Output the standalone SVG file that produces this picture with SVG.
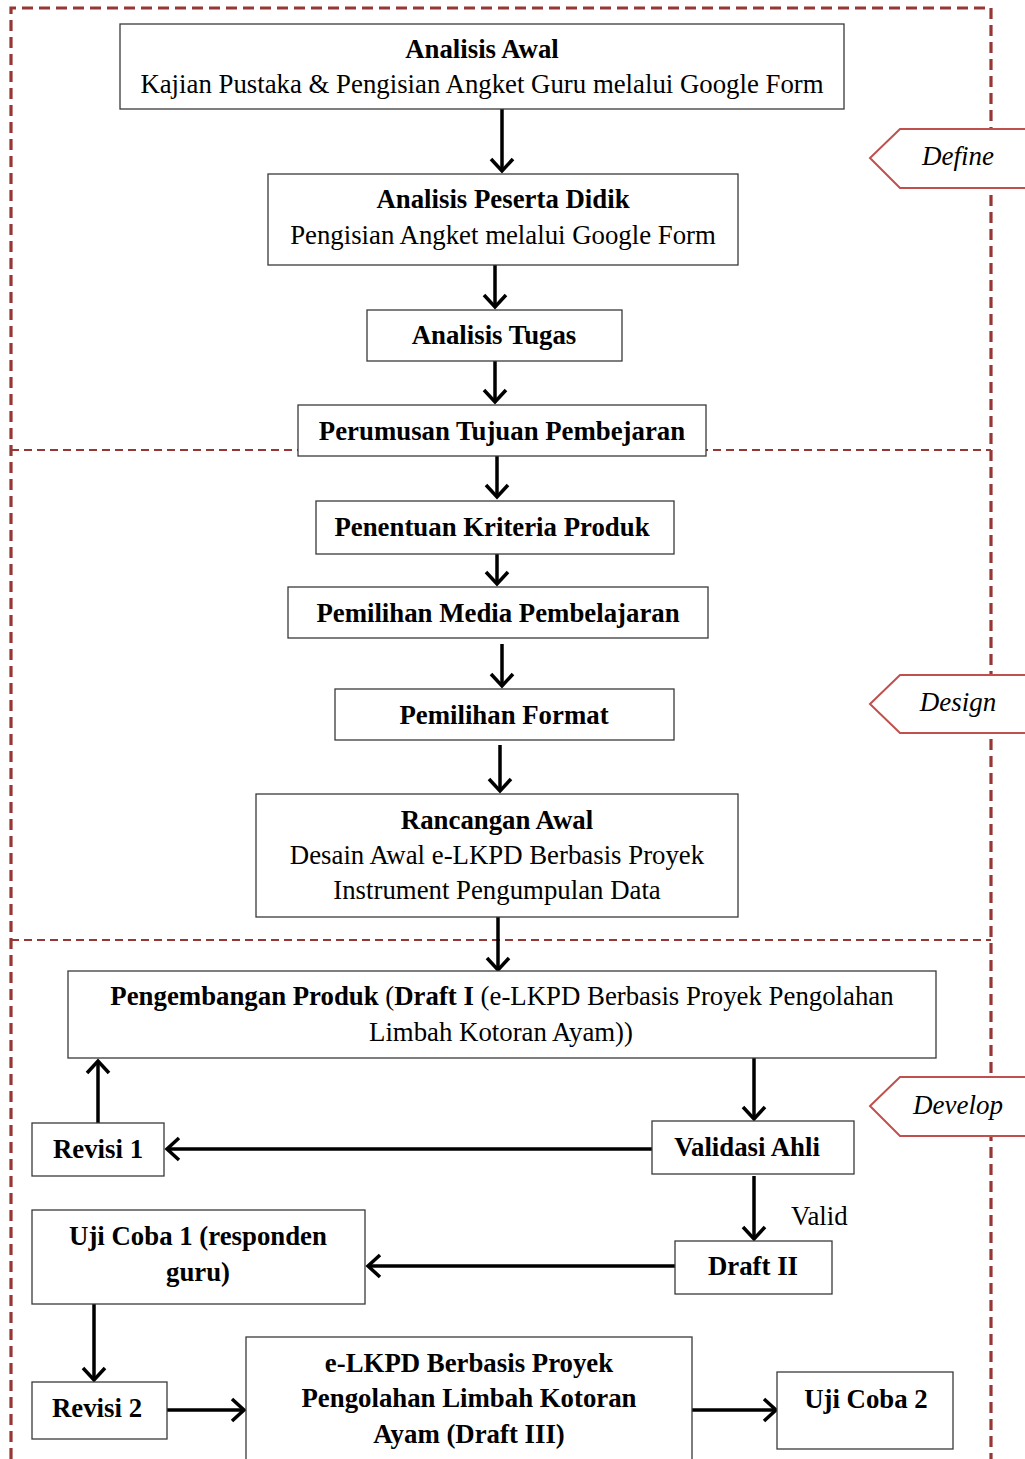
<svg xmlns="http://www.w3.org/2000/svg" width="1025" height="1459" viewBox="0 0 1025 1459">
<style>
.box{fill:#fff;stroke:#3a3a3a;stroke-width:1.3}
.t{font-family:"Liberation Serif","Times New Roman",serif;font-size:26.8px;fill:#000;text-anchor:middle}
.b{font-weight:bold}
.c{fill:none;stroke:#000;stroke-width:3.5}
.tag{fill:#fff;stroke:#c0504d;stroke-width:2}
.ti{font-family:"Liberation Serif","Times New Roman",serif;font-size:27px;font-style:italic;fill:#000;text-anchor:middle}
.border{fill:none;stroke:#953734;stroke-width:3.2;stroke-dasharray:11 6}
.div{fill:none;stroke:#953734;stroke-width:2.2;stroke-dasharray:8 5}
</style>
<defs>
<marker id="ah" markerUnits="userSpaceOnUse" viewBox="0 0 28 28" markerWidth="28" markerHeight="28" refX="14" refY="14" orient="auto">
<path d="M2,3 L14,14 L2,25" fill="none" stroke="#000" stroke-width="3.5"/>
</marker>
</defs>
<rect width="1025" height="1459" fill="#fff"/>
<g id="frame">
<path class="border" d="M11,1459 L11,8 L991,8 L991,1459"/>
<path class="div" d="M11,450 L991,450"/>
<path class="div" d="M11,940 L991,940"/>
</g>
<g id="connectors">
<path class="c" marker-end="url(#ah)" d="M502,109 L502,171"/>
<path class="c" marker-end="url(#ah)" d="M495,265 L495,307"/>
<path class="c" marker-end="url(#ah)" d="M495,361 L495,402"/>
<path class="c" marker-end="url(#ah)" d="M497,456 L497,497"/>
<path class="c" marker-end="url(#ah)" d="M497,554 L497,584"/>
<path class="c" marker-end="url(#ah)" d="M502,644 L502,686"/>
<path class="c" marker-end="url(#ah)" d="M500,745 L500,791"/>
<path class="c" marker-end="url(#ah)" d="M498,917 L498,970"/>
<path class="c" marker-end="url(#ah)" d="M754,1058 L754,1119"/>
<path class="c" marker-end="url(#ah)" d="M652,1149 L167,1149"/>
<path class="c" marker-end="url(#ah)" d="M98,1123 L98,1061"/>
<path class="c" marker-end="url(#ah)" d="M754,1176 L754,1239"/>
<path class="c" marker-end="url(#ah)" d="M675,1266 L368,1266"/>
<path class="c" marker-end="url(#ah)" d="M94,1304 L94,1380"/>
<path class="c" marker-end="url(#ah)" d="M167,1410 L244,1410"/>
<path class="c" marker-end="url(#ah)" d="M692,1410 L776,1410"/>
<text class="t" x="791" y="1225" style="text-anchor:start">Valid</text>
</g>
<g id="n1"><rect class="box" x="120" y="24" width="724" height="85"/>
<text class="t b" x="482" y="58">Analisis Awal</text>
<text class="t" x="482" y="93">Kajian Pustaka &amp; Pengisian Angket Guru melalui Google Form</text></g>
<g id="n2"><rect class="box" x="268" y="174" width="470" height="91"/>
<text class="t b" x="503" y="208">Analisis Peserta Didik</text>
<text class="t" x="503" y="244">Pengisian Angket melalui Google Form</text></g>
<g id="n3"><rect class="box" x="367" y="310" width="255" height="51"/>
<text class="t b" x="494" y="344">Analisis Tugas</text></g>
<g id="n4"><rect class="box" x="298" y="405" width="408" height="51"/>
<text class="t b" x="502" y="440">Perumusan Tujuan Pembejaran</text></g>
<g id="n5"><rect class="box" x="316" y="501" width="358" height="53"/>
<text class="t b" x="492" y="536">Penentuan Kriteria Produk</text></g>
<g id="n6"><rect class="box" x="288" y="587" width="420" height="51"/>
<text class="t b" x="498" y="622">Pemilihan Media Pembelajaran</text></g>
<g id="n7"><rect class="box" x="335" y="689" width="339" height="51"/>
<text class="t b" x="504" y="724">Pemilihan Format</text></g>
<g id="n8"><rect class="box" x="256" y="794" width="482" height="123"/>
<text class="t b" x="497" y="829">Rancangan Awal</text>
<text class="t" x="497" y="864">Desain Awal e-LKPD Berbasis Proyek</text>
<text class="t" x="497" y="899">Instrument Pengumpulan Data</text></g>
<g id="n9"><rect class="box" x="68" y="971" width="868" height="87"/>
<text class="t" x="502" y="1005"><tspan class="b">Pengembangan Produk</tspan> (<tspan class="b">Draft I</tspan> (e-LKPD Berbasis Proyek Pengolahan</text>
<text class="t" x="501" y="1041">Limbah Kotoran Ayam))</text></g>
<g id="n10"><rect class="box" x="32" y="1123" width="132" height="53"/>
<text class="t b" x="98" y="1158">Revisi 1</text></g>
<g id="n11"><rect class="box" x="652" y="1121" width="202" height="53"/>
<text class="t b" x="747" y="1156">Validasi Ahli</text></g>
<g id="n12"><rect class="box" x="32" y="1210" width="333" height="94"/>
<text class="t b" x="198" y="1245">Uji Coba 1 (responden</text>
<text class="t b" x="198" y="1281">guru)</text></g>
<g id="n13"><rect class="box" x="675" y="1241" width="157" height="53"/>
<text class="t b" x="753" y="1275">Draft II</text></g>
<g id="n14"><rect class="box" x="32" y="1382" width="135" height="57"/>
<text class="t b" x="97" y="1417">Revisi 2</text></g>
<g id="n15"><rect class="box" x="246" y="1337" width="446" height="130"/>
<text class="t b" x="469" y="1372">e-LKPD Berbasis Proyek</text>
<text class="t b" x="469" y="1407">Pengolahan Limbah Kotoran</text>
<text class="t b" x="469" y="1443">Ayam (Draft III)</text></g>
<g id="n16"><rect class="box" x="777" y="1372" width="176" height="77"/>
<text class="t b" x="866" y="1408">Uji Coba 2</text></g>
<g id="tag-define"><path class="tag" d="M1027,129 L900,129 L870,158 L900,188 L1027,188"/>
<text class="ti" x="958" y="165">Define</text></g>
<g id="tag-design"><path class="tag" d="M1027,675 L900,675 L870,704 L900,733 L1027,733"/>
<text class="ti" x="958" y="711">Design</text></g>
<g id="tag-develop"><path class="tag" d="M1027,1077 L900,1077 L870,1106 L900,1136 L1027,1136"/>
<text class="ti" x="958" y="1114">Develop</text></g>
</svg>
